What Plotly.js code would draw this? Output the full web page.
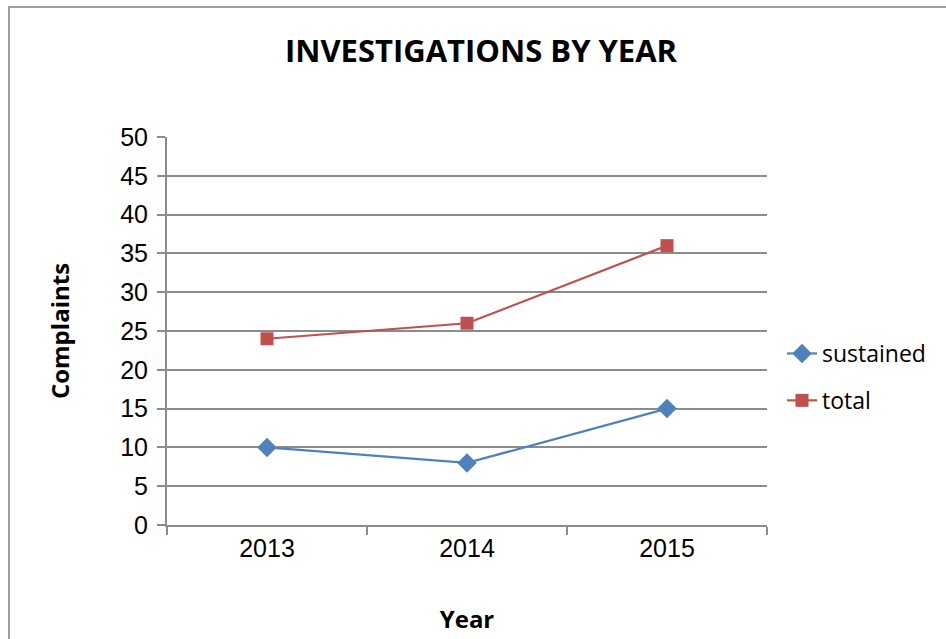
<!DOCTYPE html>
<html>
<head>
<meta charset="utf-8">
<script src="https://cdn.plot.ly/plotly-3.0.1.min.js"></script>
<style>
  html, body { margin: 0; padding: 0; background: #fff; }
  #frame { position: absolute; left: 8px; top: 6px; width: 960px; height: 660px;
           border-left: 2px solid #a0a0a0; border-top: 2px solid #a0a0a0; box-sizing: border-box; }
  #chart { position: absolute; left: 0; top: 0; width: 946px; height: 639px; }
</style>
</head>
<body>
<div id="frame"></div>
<div id="chart"></div>
<script>
const years = ['2013', '2014', '2015'];
const sustained = [10, 8, 15];
const total = [24, 26, 36];
const yTicks = [0, 5, 10, 15, 20, 25, 30, 35, 40, 45, 50];

const font = 'Liberation Sans, Arial, sans-serif';
const boldFont = 'Open Sans, Liberation Sans, sans-serif';
const traces = [
  {
    x: years, y: sustained, name: 'sustained', type: 'scatter', mode: 'lines+markers',
    legendgroup: 'a',
    line: { color: '#4F81BD', width: 2.2 },
    marker: { symbol: 'diamond', size: 15, color: '#4F81BD' }
  },
  {
    x: years, y: total, name: 'total', type: 'scatter', mode: 'lines+markers',
    legendgroup: 'b',
    line: { color: '#C0504D', width: 2.2 },
    marker: { symbol: 'square', size: 13, color: '#C0504D' }
  }
];

const layout = {
  width: 946, height: 639,
  paper_bgcolor: 'rgba(0,0,0,0)', plot_bgcolor: 'rgba(0,0,0,0)',
  margin: { l: 167, r: 179, t: 137, b: 114 },
  title: {
    text: '<b>INVESTIGATIONS BY YEAR</b>',
    font: { family: boldFont, size: 31, color: '#000' },
    xref: 'container', x: 0.5085, xanchor: 'center',
    yref: 'container', y: 1 - 51 / 639, yanchor: 'middle'
  },
  xaxis: {
    type: 'category', range: [-0.5, 2.5],
    tickson: 'boundaries', ticks: 'outside', ticklen: 8, tickwidth: 2, tickcolor: '#8c8c8c',
    showline: true, linecolor: '#8c8c8c', linewidth: 2,
    showgrid: false, zeroline: false,
    tickfont: { family: font, size: 25, color: '#000' },
    title: { text: '<b>Year</b>', font: { family: boldFont, size: 24, color: '#000' }, standoff: 50 }
  },
  yaxis: {
    range: [0, 50], tickvals: yTicks, ticktext: yTicks.map(String),
    ticks: 'outside', ticklen: 8, tickwidth: 2, tickcolor: '#8c8c8c',
    ticklabelstandoff: 4,
    showline: true, linecolor: '#8c8c8c', linewidth: 2,
    showgrid: true, gridcolor: '#8c8c8c', gridwidth: 2, zeroline: false,
    tickfont: { family: font, size: 25, color: '#000' },
    title: { text: '<b>Complaints</b>', font: { family: boldFont, size: 24, color: '#000' }, standoff: 44 }
  },
  showlegend: true,
  legend: {
    x: 1.025, xanchor: 'left', y: (525 - 332) / 388, yanchor: 'top',
    traceorder: 'grouped', tracegroupgap: 14,
    font: { family: boldFont, size: 23, color: '#000' },
    bgcolor: 'rgba(0,0,0,0)'
  }
};

Plotly.newPlot('chart', traces, layout, { displayModeBar: false, staticPlot: true });
</script>
</body>
</html>
